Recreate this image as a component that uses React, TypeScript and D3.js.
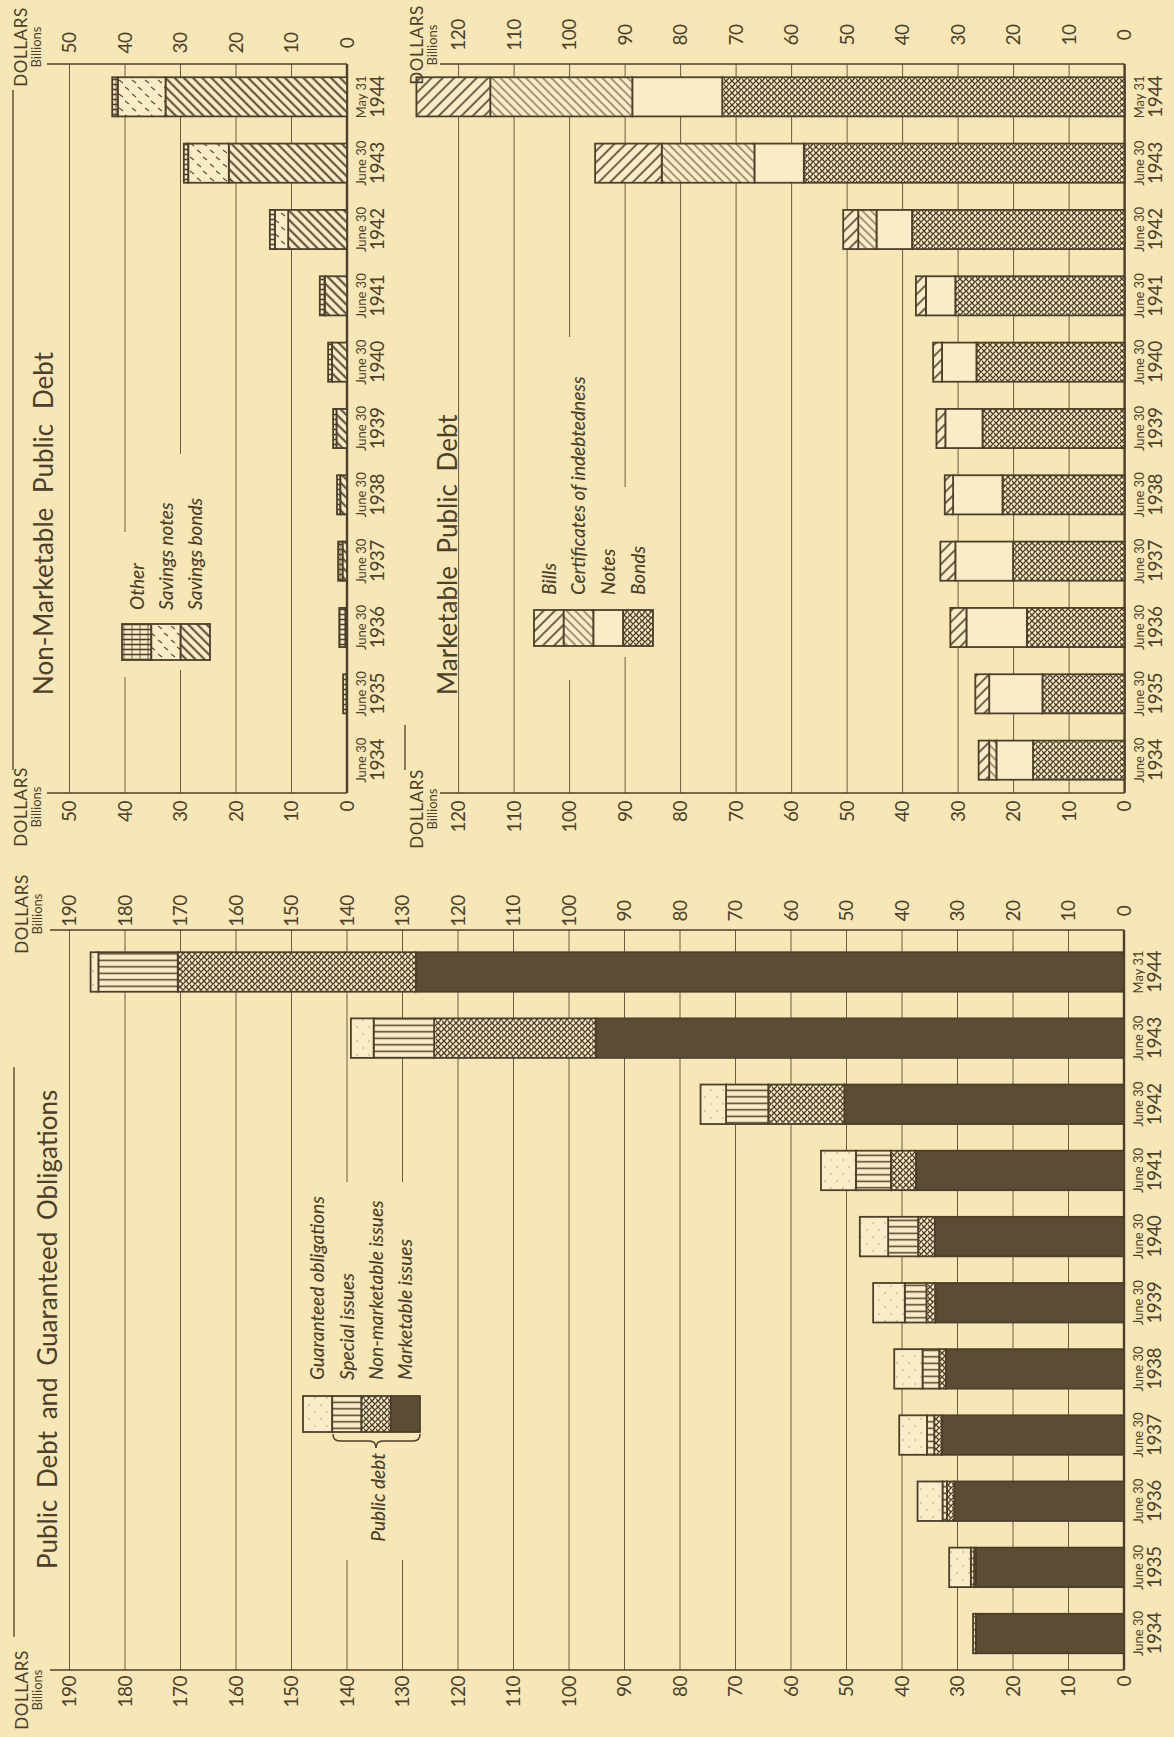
import React from 'react'
import * as d3 from 'd3'

// categories (fiscal dates)
const years = ['1934', '1935', '1936', '1937', '1938', '1939', '1940', '1941', '1942', '1943', '1944']
const dateLabels = ['June 30', 'June 30', 'June 30', 'June 30', 'June 30', 'June 30', 'June 30', 'June 30', 'June 30', 'June 30', 'May 31']

// Public debt and guaranteed obligations, billions of dollars
const marketableIssues = [26.7, 26.7, 30.6, 32.8, 32.1, 34.0, 34.1, 37.5, 50.4, 95.2, 127.6]
const nonMarketableIssues = [0, 0.3, 1.3, 1.4, 1.2, 1.6, 3.0, 4.5, 13.7, 29.1, 42.9]
const specialIssues = [0.5, 0.6, 0.8, 1.3, 3.0, 3.9, 5.4, 6.3, 7.6, 10.9, 14.3]
const guaranteedObligations = [0, 3.9, 4.5, 5.0, 5.1, 5.7, 5.1, 6.3, 4.6, 4.1, 1.4]

// Non-marketable public debt
const savingsBonds = [0, 0.1, 0.3, 0.8, 1.2, 1.9, 2.7, 4.0, 10.6, 21.3, 32.7]
const savingsNotes = [0, 0, 0, 0, 0, 0, 0, 0, 2.4, 7.3, 8.6]
const otherNonMarketable = [0, 0.6, 1.1, 0.8, 0.6, 0.6, 0.7, 0.9, 0.9, 0.8, 1.0]

// Marketable public debt
const bonds = [16.5, 14.8, 17.6, 20.1, 22.0, 25.6, 26.7, 30.5, 38.3, 57.8, 72.5]
const notes = [6.6, 9.6, 10.9, 10.4, 8.9, 6.7, 6.2, 5.3, 6.4, 8.9, 16.2]
const certificates = [1.3, 0, 0, 0, 0, 0, 0, 0, 3.3, 16.7, 25.6]
const bills = [1.9, 2.5, 2.9, 2.7, 1.5, 1.6, 1.6, 1.8, 2.7, 12.0, 13.3]

// value axes
const totalTicks = [0, 10, 20, 30, 40, 50, 60, 70, 80, 90, 100, 110, 120, 130, 140, 150, 160, 170, 180, 190]
const nonMarketableTicks = [0, 10, 20, 30, 40, 50]
const marketableTicks = [0, 10, 20, 30, 40, 50, 60, 70, 80, 90, 100, 110, 120]

const PAGE_W = 1174
const PAGE_H = 1737
const INK = '#4c3f2b'
const GRID = '#6a5c44'
const PAPER = '#f7e7b6'
const BLANK = '#f9edc8'
const SOLID = '#5b4c36'
const FONT = "Lato, 'Open Sans', 'DejaVu Sans', sans-serif"

function Defs () {
  return (
    <defs>
      <pattern id='p-vlines' width='6.5' height='10' patternUnits='userSpaceOnUse'>
        <rect width='6.5' height='10' fill={BLANK} />
        <line x1='3.2' y1='0' x2='3.2' y2='10' stroke={INK} strokeWidth='1.5' />
      </pattern>
      <pattern id='p-other' width='5' height='8' patternUnits='userSpaceOnUse'>
        <rect width='5' height='8' fill={BLANK} />
        <line x1='2.5' y1='0' x2='2.5' y2='8' stroke={INK} strokeWidth='1.6' />
        <line x1='0' y1='4' x2='5' y2='4' stroke={INK} strokeWidth='0.8' />
      </pattern>
      <pattern id='p-cross' width='6' height='6' patternUnits='userSpaceOnUse'>
        <rect width='6' height='6' fill={BLANK} />
        <path d='M0,0L6,6M6,0L0,6M-1,5L1,7M5,-1L7,1' stroke={INK} strokeWidth='1.3' />
      </pattern>
      <pattern id='p-dots' width='14' height='12' patternUnits='userSpaceOnUse'>
        <rect width='14' height='12' fill={BLANK} />
        <circle cx='3' cy='3' r='0.7' fill={INK} opacity='0.55' />
        <circle cx='10' cy='9' r='0.7' fill={INK} opacity='0.55' />
      </pattern>
      <pattern id='p-sbonds' width='6.5' height='6.5' patternUnits='userSpaceOnUse' patternTransform='rotate(45)'>
        <rect width='6.5' height='6.5' fill={BLANK} />
        <line x1='3.2' y1='0' x2='3.2' y2='6.5' stroke={INK} strokeWidth='1.9' />
      </pattern>
      <pattern id='p-bills' width='8' height='8' patternUnits='userSpaceOnUse' patternTransform='rotate(-45)'>
        <rect width='8' height='8' fill={BLANK} />
        <line x1='4' y1='0' x2='4' y2='8' stroke={INK} strokeWidth='1.6' />
      </pattern>
      <pattern id='p-certs' width='6' height='6' patternUnits='userSpaceOnUse' patternTransform='rotate(45)'>
        <rect width='6' height='6' fill={BLANK} />
        <line x1='3' y1='0' x2='3' y2='6' stroke={INK} strokeWidth='1' />
      </pattern>
      <pattern id='p-dash' width='14' height='13' patternUnits='userSpaceOnUse'>
        <rect width='14' height='13' fill={BLANK} />
        <line x1='2' y1='6' x2='5' y2='2' stroke={INK} strokeWidth='1.2' />
        <line x1='9' y1='12' x2='12' y2='8' stroke={INK} strokeWidth='1.2' />
      </pattern>
    </defs>
  )
}

function Legend ({ u, v0, v1, keys, fills, labels, labelU }) {
  const band = d3.scaleBand().domain(keys).range([v0, v1])
  return (
    <g>
      {keys.map(k => (
        <rect key={k} x={u} y={band(k)} width={36} height={band.bandwidth()}
          fill={fills[k]} stroke={INK} strokeWidth={1.8} />
      ))}
      {keys.map(k => (
        <text key={k + '-t'} x={labelU} y={band(k) + band.bandwidth() / 2} dy='0.36em'
          fontStyle='italic' fontWeight={500} fontSize={19} fill={INK}>{labels[k]}</text>
      ))}
    </g>
  )
}

function Dollars ({ u, v }) {
  return (
    <g fill={INK} textAnchor='middle'>
      <text x={u} y={v} fontSize={17} letterSpacing='0.6'>DOLLARS</text>
      <text x={u} y={v + 14} fontSize={13}>Billions</text>
    </g>
  )
}

function Panel ({ cfg }) {
  const { x, y, series, keys, fills, ticks, uLeft, uRight, vTop, leftEnd, rightMid } = cfg
  const rows = years.map((year, i) => {
    const row = { year }
    keys.forEach(k => { row[k] = series[k][i] })
    return row
  })
  const layers = d3.stack().keys(keys)(rows)
  const zero = y(0)
  const bw = x.bandwidth()

  return (
    <g fontFamily={FONT}>
      {ticks.filter(t => t > 0).map(t => (
        <line key={'g' + t} x1={uLeft} x2={uRight} y1={y(t)} y2={y(t)} stroke={GRID} strokeWidth={1} />
      ))}
      {cfg.gaps.map((g, i) => (
        <rect key={'gap' + i} x={g[0]} y={g[1]} width={g[2] - g[0]} height={g[3] - g[1]} fill={PAPER} />
      ))}
      <line x1={uLeft} x2={uLeft} y1={vTop} y2={zero} stroke={INK} strokeWidth={1.5} />
      <line x1={uRight} x2={uRight} y1={vTop} y2={zero} stroke={INK} strokeWidth={1.5} />
      <line x1={uLeft} x2={uRight} y1={zero} y2={zero} stroke={INK} strokeWidth={2.4} />

      {ticks.map(t => (
        <text key={'l' + t} x={leftEnd} y={y(t)} dy='0.36em' textAnchor='end' fontSize={19}
          letterSpacing='-0.5' fill={INK}>{t}</text>
      ))}
      {ticks.map(t => (
        <text key={'r' + t} x={rightMid} y={y(t)} dy='0.36em' textAnchor='middle' fontSize={19}
          letterSpacing='-0.5' fill={INK}>{t}</text>
      ))}

      {layers.map(layer => layer.map(d => {
        const h = y(d[0]) - y(d[1])
        if (h <= 0.05) return null
        return (
          <rect key={layer.key + d.data.year} x={x(d.data.year)} width={bw} y={y(d[1])} height={h}
            fill={fills[layer.key]} stroke={INK} strokeWidth={1.8} />
        )
      }))}

      {years.map((yr, i) => (
        <g key={'c' + yr} fill={INK} textAnchor='middle'>
          <text x={x(yr) + bw / 2} y={zero + 19} fontSize={13}>{dateLabels[i]}</text>
          <text x={x(yr) + bw / 2} y={zero + 37} fontSize={19} letterSpacing='-0.6'>{yr}</text>
        </g>
      ))}

      <Dollars u={cfg.dollarsLeft} v={cfg.dollarsV} />
      <Dollars u={cfg.dollarsRight} v={cfg.dollarsV} />
      {cfg.rules.map((r, i) => (
        <line key={'rule' + i} x1={r[0]} x2={r[1]} y1={r[2]} y2={r[2]} stroke={INK} strokeWidth={1.3} />
      ))}
      <text x={cfg.titleU} y={cfg.titleV} fontSize={26} wordSpacing={cfg.wordSpacing} fill={INK}>{cfg.title}</text>
      <Legend {...cfg.legend} fills={fills} keys={cfg.legend.keys} />
      {cfg.extra}
    </g>
  )
}

export default function App () {
  // Original page is landscape; drawn in (u, v) and turned a quarter to the left.
  const totalX = d3.scaleBand().domain(years).range([70.5, 798]).paddingInner(0.403).paddingOuter(0.2)
  const topX = d3.scaleBand().domain(years).range([944, 1673]).paddingInner(0.41).paddingOuter(0.2)

  const totalY = d3.scaleLinear().domain([0, 190]).range([1124, 69.5])
  const nonMarketableY = d3.scaleLinear().domain([0, 50]).range([347, 69.5])
  const marketableY = d3.scaleLinear().domain([0, 120]).range([1124.6, 458.6])

  const totalCfg = {
    x: totalX,
    y: totalY,
    series: { marketable: marketableIssues, nonMarketable: nonMarketableIssues, special: specialIssues, guaranteed: guaranteedObligations },
    keys: ['marketable', 'nonMarketable', 'special', 'guaranteed'],
    fills: { marketable: SOLID, nonMarketable: 'url(#p-cross)', special: 'url(#p-vlines)', guaranteed: 'url(#p-dots)' },
    ticks: totalTicks,
    uLeft: 67,
    uRight: 807,
    vTop: 50,
    leftEnd: 61,
    rightMid: 826,
    gaps: [[177, 330, 555, 425]],
    dollarsLeft: 47,
    dollarsRight: 823,
    dollarsV: 28,
    rules: [[100, 670, 14]],
    title: 'Public Debt and Guaranteed Obligations',
    titleU: 168,
    titleV: 57,
    wordSpacing: 5,
    legend: {
      u: 305,
      v0: 303,
      v1: 420,
      labelU: 357,
      keys: ['guaranteed', 'special', 'nonMarketable', 'marketable'],
      labels: { guaranteed: 'Guaranteed obligations', special: 'Special issues', nonMarketable: 'Non-marketable issues', marketable: 'Marketable issues' }
    },
    extra: (
      <g>
        <path d='M303,333Q296,333 296,340L296,369Q296,376 289,376Q296,376 296,383L296,413Q296,420 303,420'
          fill='none' stroke={INK} strokeWidth={1.5} />
        <text x={284} y={378} dy='0.36em' textAnchor='end' fontStyle='italic' fontWeight={500}
          fontSize={19} fill={INK}>Public debt</text>
      </g>
    )
  }

  const nonMarketableCfg = {
    x: topX,
    y: nonMarketableY,
    series: { savingsBonds, savingsNotes, other: otherNonMarketable },
    keys: ['savingsBonds', 'savingsNotes', 'other'],
    fills: { savingsBonds: 'url(#p-sbonds)', savingsNotes: 'url(#p-dash)', other: 'url(#p-other)' },
    ticks: nonMarketableTicks,
    uLeft: 944,
    uRight: 1673,
    vTop: 47,
    leftEnd: 936,
    rightMid: 1694,
    gaps: [[1060, 118, 1205, 133], [1067, 174, 1283, 189]],
    dollarsLeft: 930,
    dollarsRight: 1690,
    dollarsV: 27,
    rules: [[967, 1647, 13]],
    title: 'Non-Marketable Public Debt',
    titleU: 1042,
    titleV: 53,
    wordSpacing: 8,
    legend: {
      u: 1077,
      v0: 122,
      v1: 210,
      labelU: 1127,
      keys: ['other', 'savingsNotes', 'savingsBonds'],
      labels: { other: 'Other', savingsNotes: 'Savings notes', savingsBonds: 'Savings bonds' }
    },
    extra: null
  }

  const marketableCfg = {
    x: topX,
    y: marketableY,
    series: { bonds, notes, certificates, bills },
    keys: ['bonds', 'notes', 'certificates', 'bills'],
    fills: { bonds: 'url(#p-cross)', notes: BLANK, certificates: 'url(#p-certs)', bills: 'url(#p-bills)' },
    ticks: marketableTicks,
    uLeft: 944,
    uRight: 1673,
    vTop: 440,
    leftEnd: 936,
    rightMid: 1702,
    gaps: [[1057, 562, 1400, 578], [1080, 617, 1250, 633]],
    dollarsLeft: 928,
    dollarsRight: 1692,
    dollarsV: 423,
    rules: [[967, 1012, 405]],
    title: 'Marketable Public Debt',
    titleU: 1042,
    titleV: 457,
    wordSpacing: 6,
    legend: {
      u: 1091,
      v0: 534,
      v1: 653,
      labelU: 1142,
      keys: ['bills', 'certificates', 'notes', 'bonds'],
      labels: { bills: 'Bills', certificates: 'Certificates of indebtedness', notes: 'Notes', bonds: 'Bonds' }
    },
    extra: null
  }

  return (
    <svg width={PAGE_W} height={PAGE_H} viewBox={`0 0 ${PAGE_W} ${PAGE_H}`}
      style={{ position: 'absolute', left: 0, top: 0, display: 'block' }}>
      <Defs />
      <rect width={PAGE_W} height={PAGE_H} fill={PAPER} />
      <g transform={`translate(0,${PAGE_H}) rotate(-90)`}>
        <Panel cfg={totalCfg} />
        <Panel cfg={nonMarketableCfg} />
        <Panel cfg={marketableCfg} />
      </g>
    </svg>
  )
}
